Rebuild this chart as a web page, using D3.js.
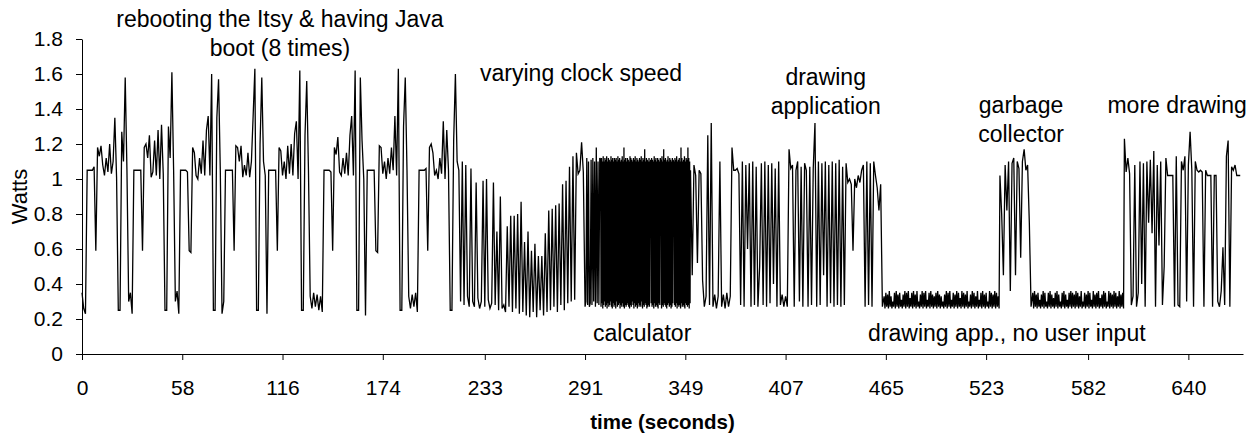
<!DOCTYPE html>
<html><head><meta charset="utf-8">
<script src="https://cdn.jsdelivr.net/npm/d3@7"></script>
<style>body{margin:0;background:#fff}svg{display:block}</style>
</head><body>
<svg id="chart" width="1255" height="437"></svg>
<script>
// ---- data (watts), sampled at regular time steps ----
// boot cycles, t = 0..218 s, 1 s step
const bootWatts = [
 0.35,0.26,0.23,1.05,1.05,1.05,1.05,1.07,0.59,1.18, 1.13,1.19,1.08,1.02,1.12,1.04,1.20,1.03,1.10,1.35,
 1.01,0.25,0.25,1.27,1.10,1.58,1.05,0.30,0.35,0.23,
 1.05,1.05,1.05,1.05,1.05,0.59,1.18,1.20,1.12,1.25, 1.01,1.04,1.22,1.02,1.28,1.00,1.31,1.03,0.25,0.25,
 1.30,1.12,1.61,1.05,0.30,0.36,0.23,
 1.05,1.05,1.05,1.05,1.04,0.59,0.58,1.18,1.15,1.02, 1.00,1.12,1.03,1.22,1.02,1.28,1.36,1.02,1.60,0.25,
 0.25,1.35,1.57,1.05,0.23,
 0.30,1.05,1.05,1.05,1.05,1.05,0.59,1.19,1.18,1.10, 1.19,1.01,1.08,1.02,1.15,1.01,1.10,1.36,1.63,0.25,
 0.25,1.20,1.58,1.10,1.02,0.23,
 1.05,1.05,1.05,1.05,1.05,0.59,1.18,1.16,1.02,1.10, 1.00,1.19,1.03,1.20,1.02,1.26,1.33,1.00,1.62,0.25,
 0.25,1.25,1.56,1.05,0.33,0.26,0.35,0.27,0.34,0.25, 0.33,0.24,
 1.05,1.05,1.05,1.05,1.04,0.59,1.18,1.14,1.24,1.04, 1.02,1.12,1.03,1.15,1.02,1.25,1.36,1.02,1.62,0.25,
 0.25,1.58,1.22,1.00,0.22,
 1.05,1.05,1.05,1.05,1.05,0.59,0.58,1.19,1.18,1.03, 1.10,1.00,1.12,1.03,1.18,1.05,1.36,1.02,1.63,0.25,
 0.25,1.30,1.58,1.05,0.33,0.26,0.34,0.27,0.35,0.24,
 1.05,1.05,1.05,1.05,1.06,0.59,1.18,1.20,1.15,1.02, 1.05,1.00,1.12,1.03,1.33,1.00,1.28,1.05,0.25,0.25,
 1.22,1.60,1.10,1.05
];
// varying clock speed, t = 219..290 s, 1 s step
const clockWatts = [
 0.30,1.10,0.28,1.08,0.33,0.27,1.06,0.30,0.27,0.98, 0.32,0.26,0.30,0.99,0.27,1.00,0.31,0.26,0.29,0.98,
 0.28,0.70,0.25,0.90,0.26,0.28,0.24,0.73,0.27,0.79, 0.24,0.79,0.26,0.80,0.23,0.87,0.24,0.64,0.22,0.70,
 0.21,0.59,0.24,0.63,0.21,0.56,0.25,0.56,0.22,0.69, 0.24,0.82,0.25,0.83,0.27,0.85,0.24,0.86,0.28,0.97,
 0.25,0.99,0.29,1.07,0.30,1.13,0.31,1.15,1.03,1.05, 1.21,1.04
];
// calculator start, t = 291..299.5 s, 0.5 s step
const calcWattsA = [
 0.27,0.30,1.12,0.28,1.10,0.27,0.29,1.11,0.28,1.12, 0.30,1.10,0.27,1.18,0.29,1.10,0.28,1.12
];
// calculator, t = 300..351.75 s, 0.25 s step
const calcWattsB = [
 1.11,0.27,1.12,0.29,1.10,0.26,1.13,0.28,1.10,0.30, 1.12,0.27,1.11,0.28,1.13,0.26,1.10,0.29,1.12,0.27,
 1.11,0.28,1.10,0.30,1.13,0.27,1.11,0.26,1.12,0.29, 1.10,0.27,1.12,0.28,1.11,0.26,1.12,0.30,1.10,0.27,
 1.13,0.28,1.11,0.29,1.12,0.26,1.10,0.28,1.11,0.27, 1.13,0.29,1.10,0.27,1.18,0.26,1.11,0.28,1.12,0.27,
 1.10,0.28,1.12,0.29,1.11,0.27,1.10,0.26,1.13,0.28, 1.12,0.27,1.11,0.30,1.10,0.28,1.12,0.26,1.11,0.29,
 1.13,0.27,1.10,0.28,1.12,0.26,1.11,0.29,1.10,0.27, 1.12,0.28,1.11,0.27,1.13,0.30,1.10,0.26,1.12,0.28,
 1.11,0.27,1.17,0.29,1.10,0.28,1.12,0.26,1.11,0.27, 1.10,0.28,1.12,0.27,1.10,1.08,1.11,0.29,1.12,0.27,
 1.11,0.28,1.10,0.26,1.13,0.29,1.11,0.27,1.12,0.28, 1.10,0.27,1.12,0.26,1.11,0.29,1.10,0.28,1.12,1.10,
 1.11,0.26,1.13,0.28,1.10,0.27,1.17,0.29,1.11,0.28, 1.12,0.27,1.10,0.26,1.11,0.28,1.13,0.29,1.10,0.27,
 1.12,0.28,1.11,0.26,1.10,0.27,1.12,0.29,1.11,1.08, 1.10,0.28,1.12,0.27,1.11,0.29,1.13,0.26,1.10,0.28,
 1.11,0.27,1.12,0.28,1.10,0.26,1.18,0.29,1.12,0.27, 1.10,0.28,1.11,0.27,1.13,0.26,1.10,0.29,1.12,0.28,
 1.11,0.27,1.18,0.28,1.12,0.26,1.10,0.29
];
// drawing application, t = 352..463 s, 1 s step
const drawWatts = [
 1.05,0.45,1.08,1.02,0.52,1.05,1.03,0.42,
 0.27,0.33,1.25,0.28,1.32,0.27,0.34,0.26,0.33,1.10, 0.27,0.34,0.26,0.35,0.27,0.33,1.18,1.05,1.05,1.06,1.03,
 0.28,1.10,0.27,1.08,0.60,1.09,0.27,1.10,0.28,1.07, 0.27,0.50,1.09,0.28,1.10,0.27,1.08,0.29,1.09,0.40,
 1.06,0.27,1.10,0.28,
 0.34,0.27,0.33,0.27,
 1.17,1.06,1.08,0.27,1.05,1.10,0.30,1.07,0.27,1.09, 1.05,0.27,1.07,0.28,1.06,1.32,
 0.27,1.10,0.28,1.09,0.45,1.10,0.27,1.08,0.29,1.10, 0.27,1.09,0.28,1.11,0.27,1.07,0.28,1.09,
 0.98,1.00,0.97,0.59,1.00,0.95,1.02,0.98,1.05,1.08,
 0.27,1.10,0.28,1.09,0.27,1.10,1.02,0.95,0.82,0.97,0.27
];
// drawing app., no user input, t = 464..530.5 s, 0.5 s step
const idleWatts1 = [
 0.33,0.26,0.35,0.27,0.34,0.26,0.36,0.27,0.33,0.26, 0.30,0.27,0.35,0.26,0.36,0.27,0.34,0.26,0.35,0.27,
 0.31,0.26,0.34,0.27,0.36,0.26,0.35,0.27,0.36,0.26, 0.32,0.27,0.35,0.26,0.36,0.27,0.34,0.26,0.36,0.27,
 0.30,0.26,0.34,0.27,0.36,0.26,0.35,0.27,0.36,0.26, 0.31,0.27,0.35,0.26,0.36,0.27,0.34,0.26,0.33,0.27,
 0.35,0.26,0.36,0.27,0.34,0.26,0.33,0.27,0.30,0.26, 0.34,0.27,0.36,0.26,0.35,0.27,0.36,0.26,0.31,0.27,
 0.35,0.26,0.34,0.27,0.36,0.26,0.35,0.27,0.32,0.26, 0.36,0.27,0.35,0.26,0.34,0.27,0.36,0.26,0.30,0.27,
 0.34,0.26,0.36,0.27,0.35,0.26,0.33,0.27,0.36,0.26, 0.31,0.27,0.35,0.26,0.36,0.27,0.34,0.26,0.35,0.27,
 0.30,0.26,0.36,0.27,0.35,0.26,0.34,0.27,0.36,0.26, 0.35,0.27,0.33,0.26
];
// garbage collector, t = 531..549 s, 1 s step
const gcWatts = [
 1.02,0.80,0.45,1.08,0.82,1.10,0.36,1.09,1.12,0.45, 1.10,1.06,0.55,1.10,1.17,1.05,1.08,0.75,0.27
];
// idle again, t = 550..602.5 s, 0.5 s step
const idleWatts2 = [
 0.35,0.26,0.36,0.27,0.34,0.26,0.35,0.27,0.31,0.26, 0.34,0.27,0.36,0.26,0.35,0.27,0.30,0.26,0.35,0.27,
 0.36,0.26,0.34,0.27,0.32,0.26,0.35,0.27,0.36,0.26, 0.34,0.27,0.30,0.26,0.35,0.27,0.36,0.26,0.34,0.27,
 0.31,0.26,0.35,0.27,0.36,0.26,0.35,0.27,0.34,0.26, 0.36,0.27,0.35,0.26,0.33,0.27,0.36,0.26,0.30,0.27,
 0.35,0.26,0.34,0.27,0.36,0.26,0.35,0.27,0.31,0.26, 0.36,0.27,0.34,0.26,0.35,0.27,0.36,0.26,0.32,0.27,
 0.34,0.26,0.36,0.27,0.35,0.26,0.30,0.27,0.36,0.26, 0.35,0.27,0.34,0.26,0.36,0.27,0.35,0.26,0.33,0.27,
 0.36,0.26,0.34,0.27,0.35,0.26
];
// more drawing, t = 603..670 s, 1 s step
const moreDrawWatts = [
 1.23,1.04,1.12,1.03,0.28,0.33,1.08,0.27,0.35,1.10, 0.40,1.09,0.27,1.10,0.75,1.11,0.69,1.16,0.27,1.08,
 0.62,1.10,0.28,0.50,1.12,1.02,1.02,1.02,1.02,0.27, 1.13,0.28,0.27,1.10,1.05,1.13,0.30,1.08,1.27,1.05,
 0.27,1.10,1.05,1.04,1.05,1.04,0.27,1.05,1.02,1.02, 1.02,0.27,1.02,1.02,0.30,0.27,0.36,0.61,0.28,1.13,
 1.22,0.27,1.07,1.05,1.08,1.02,1.02,1.02
];
const segments = [
 {start:0,   step:1,    values:bootWatts},
 {start:219, step:1,    values:clockWatts},
 {start:291, step:0.5,  values:calcWattsA},
 {start:300, step:0.25, values:calcWattsB},
 {start:352, step:1,    values:drawWatts},
 {start:464, step:0.5,  values:idleWatts1},
 {start:531, step:1,    values:gcWatts},
 {start:550, step:0.5,  values:idleWatts2},
 {start:603, step:1,    values:moreDrawWatts}
];
const xTickValues = [0,58,116,174,233,291,349,407,465,523,582,640];
const yTickValues = [0,0.2,0.4,0.6,0.8,1,1.2,1.4,1.6,1.8];
const notes = [
 {lines:["rebooting the Itsy & having Java","boot (8 times)"], t:114.5, w:1.869},
 {lines:["varying clock speed"], t:288.7, w:1.56},
 {lines:["drawing","application"], t:430.2, w:1.537},
 {lines:["garbage","collector"], t:543.2, w:1.377},
 {lines:["more drawing"], t:633.5, w:1.377},
 {lines:["calculator"], t:324, w:0.074},
 {lines:["drawing app., no user input"], t:535, w:0.074}
];

// ---- drawing ----
const points = [];
segments.forEach(s => s.values.forEach((v, i) => points.push([s.start + i * s.step, v])));

const svg = d3.select("#chart");
const FONT = "'Liberation Sans', Arial, Helvetica, sans-serif";
const x = d3.scaleLinear().domain([0, 671.6]).range([82, 1243]);
const y = d3.scaleLinear().domain([0, 1.8]).range([354, 39]);

const yAxis = svg.append("g").attr("transform", `translate(${x(0)},0)`)
  .call(d3.axisLeft(y).tickValues(yTickValues).tickSize(6).tickSizeOuter(0).tickPadding(13)
    .tickFormat(d => String(+d.toFixed(1))));
const xAxis = svg.append("g").attr("transform", `translate(0,${y(0)})`)
  .call(d3.axisBottom(x).tickValues(xTickValues).tickSize(6).tickSizeOuter(0).tickPadding(20)
    .tickFormat(d => String(d)));
[yAxis, xAxis].forEach(g => {
  g.selectAll("path,line").attr("stroke", "#000").attr("stroke-width", 1);
  g.selectAll("text").attr("fill", "#000").style("font-family", FONT).style("font-size", "21px");
});

svg.append("path").datum(points)
  .attr("fill", "none").attr("stroke", "#000").attr("stroke-width", 1.3)
  .attr("stroke-linejoin", "miter")
  .attr("d", d3.line().x(d => x(d[0])).y(d => y(d[1])));

svg.append("text").attr("transform", `translate(27,${y(0.9)}) rotate(-90)`)
  .attr("text-anchor", "middle").style("font-family", FONT).style("font-size", "22px").text("Watts");

svg.append("text").attr("x", (x.range()[0] + x.range()[1]) / 2).attr("y", 429)
  .attr("text-anchor", "middle").style("font-family", FONT).style("font-size", "20.5px")
  .style("font-weight", "bold").text("time (seconds)");

notes.forEach(n => {
  n.lines.forEach((ln, i) => {
    svg.append("text").attr("x", x(n.t)).attr("y", y(n.w) + i * 29)
      .attr("text-anchor", "middle").style("font-family", FONT).style("font-size", "23px")
      .text(ln);
  });
});
</script>
</body></html>
